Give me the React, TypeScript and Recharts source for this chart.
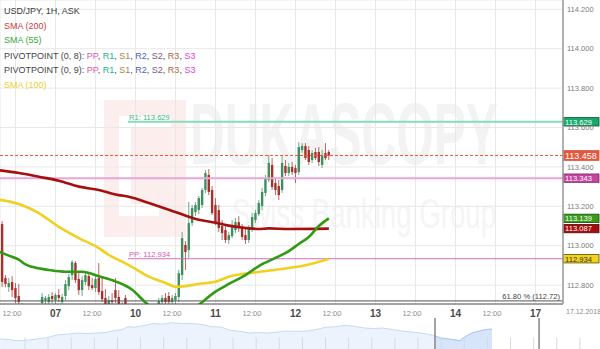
import React from 'react';
import {
  ComposedChart, Bar, Line, XAxis, YAxis, CartesianGrid, ReferenceLine,
  AreaChart, Area,
} from 'recharts';

const FONT = '"Liberation Sans", Arial, sans-serif';

// ---------- candles (1H), index 0 = 06 Dec 08:00 (hour -4 relative to 06 Dec 12:00)
const opens = [113.110,112.836,112.790,112.816,112.785,112.745,112.704,112.674,112.663,112.684,112.658,112.674,112.709,112.724,112.714,112.745,112.724,112.750,112.714,112.745,112.795,112.851,112.912,112.831,112.775,112.816,112.846,112.800,112.785,112.836,112.770,112.735,112.704,112.724,112.775,112.740,112.699,112.735,112.694,112.663,112.674,112.658,112.643,112.663,112.674,112.684,112.663,112.694,112.714,112.735,112.745,112.714,112.724,112.740,112.851,113.004,112.978,113.115,113.171,113.181,113.207,113.283,113.359,113.283,113.207,113.181,113.100,113.080,113.029,113.049,113.080,113.120,113.090,113.054,113.029,113.090,113.130,113.161,113.202,113.268,113.334,113.410,113.318,113.303,113.283,113.405,113.369,113.400,113.394,113.374,113.486,113.506,113.486,113.435,113.476,113.476,113.410,113.471,113.476];
const highs = [113.125,112.851,112.836,112.846,112.811,112.806,112.709,112.699,112.694,112.699,112.694,112.704,112.760,112.745,112.755,112.765,112.760,112.780,112.755,112.826,112.856,112.927,112.922,112.866,112.846,112.866,112.866,112.836,112.851,112.912,112.841,112.780,112.745,112.760,112.836,112.775,112.714,112.750,112.704,112.699,112.699,112.694,112.684,112.694,112.699,112.699,112.699,112.735,112.750,112.760,112.765,112.750,112.760,112.877,113.070,113.024,113.222,113.207,113.222,113.252,113.293,113.384,113.389,113.303,113.242,113.207,113.130,113.105,113.070,113.130,113.141,113.151,113.110,113.090,113.105,113.166,113.181,113.232,113.293,113.359,113.460,113.445,113.344,113.334,113.460,113.435,113.420,113.425,113.410,113.526,113.521,113.521,113.506,113.486,113.496,113.501,113.486,113.521,113.486];
const lows = [112.790,112.790,112.765,112.740,112.709,112.684,112.648,112.633,112.623,112.643,112.613,112.633,112.684,112.699,112.694,112.709,112.694,112.714,112.694,112.724,112.775,112.826,112.811,112.750,112.745,112.800,112.775,112.775,112.765,112.750,112.714,112.674,112.684,112.699,112.709,112.674,112.648,112.674,112.633,112.623,112.633,112.623,112.613,112.633,112.643,112.648,112.633,112.674,112.694,112.699,112.699,112.684,112.694,112.714,112.826,112.877,112.938,113.100,113.151,113.161,113.191,113.268,113.257,113.156,113.105,113.070,113.029,113.014,113.009,113.039,113.064,113.070,113.029,113.009,113.014,113.070,113.115,113.151,113.181,113.252,113.323,113.283,113.257,113.232,113.268,113.354,113.354,113.359,113.318,113.359,113.471,113.435,113.410,113.420,113.435,113.405,113.394,113.435,113.435];
const closes = [112.816,112.806,112.811,112.775,112.735,112.714,112.674,112.663,112.684,112.658,112.674,112.694,112.740,112.735,112.740,112.729,112.750,112.735,112.740,112.806,112.841,112.917,112.826,112.775,112.826,112.851,112.795,112.785,112.831,112.765,112.729,112.694,112.724,112.714,112.735,112.699,112.684,112.694,112.663,112.674,112.658,112.643,112.663,112.674,112.684,112.663,112.684,112.719,112.735,112.714,112.714,112.735,112.745,112.861,113.039,112.968,113.115,113.191,113.207,113.242,113.283,113.369,113.273,113.166,113.120,113.090,113.064,113.029,113.054,113.105,113.120,113.090,113.044,113.029,113.090,113.146,113.166,113.217,113.273,113.344,113.420,113.298,113.283,113.257,113.420,113.369,113.400,113.374,113.369,113.501,113.506,113.445,113.425,113.471,113.445,113.425,113.460,113.445,113.458];
const FIRST_HOUR = -4;

// ---------- moving averages (hour, value)
const sma200Hours = [-5, 1, 7, 13, 19, 25, 31, 34, 40, 46, 52, 55, 60, 64, 69, 73, 76, 82, 94];
const sma200Values = [113.383,113.369,113.350,113.330,113.300,113.283,113.257,113.249,113.217,113.183,113.147,113.132,113.117,113.102,113.090,113.085,113.088,113.085,113.087];
const sma100Hours = [-5, 1, 7, 13, 19, 25, 28, 31, 34, 40, 45, 48, 51, 55, 60, 64, 73, 82, 88, 94];
const sma100Values = [113.234,113.212,113.166,113.096,113.039,112.988,112.953,112.927,112.902,112.843,112.811,112.792,112.795,112.806,112.817,112.843,112.867,112.887,112.905,112.934];
const sma55Hours = [-5, -2, 1, 3, 5, 10, 15, 20, 25, 30, 35, 39, 43, 48, 52, 55, 60, 64, 69, 73, 78, 82, 85, 88, 91, 94];
const sma55Values = [112.970,112.950,112.929,112.905,112.893,112.877,112.868,112.868,112.845,112.819,112.777,112.712,112.660,112.630,112.660,112.700,112.767,112.806,112.851,112.897,112.938,112.973,113.009,113.044,113.100,113.139];

// ---------- axes
const xTicks = [0, 12, 24, 36, 48, 60, 72, 84, 96, 108, 120, 132, 144, 156];
const xTickLabels = ['12:00', '07', '12:00', '10', '12:00', '11', '12:00', '12', '12:00', '13', '12:00', '14', '12:00', '17'];
const yTicks = [112.8, 113.0, 113.2, 113.4, 113.6, 113.8, 114.0, 114.2];
const X_DOMAIN: [number, number] = [-4.65, 164.25];
const Y_DOMAIN: [number, number] = [112.7043, 114.2472];
const dateLabel = '17.12.2018';

// ---------- levels
const pivotStartHour = 33.75;
const r1Level = 113.629;
const ppLevel = 112.934;
const s1PrevLevel = 113.343;
const lastPrice = 113.458;
const fibLevel = 112.72;
const fibText = '61.80 % (112.72)';

const priceTags = [
  { value: 113.629, fill: '#19a86c', stroke: '#0b5234', color: '#ffffff', big: false },
  { value: 113.458, fill: '#e2583f', stroke: '#e2583f', color: '#ffffff', big: true },
  { value: 113.343, fill: '#c4459e', stroke: '#7a2a62', color: '#ffffff', big: false },
  { value: 113.139, fill: '#3a9a1c', stroke: '#1d4d0e', color: '#ffffff', big: false },
  { value: 113.087, fill: '#a30f0f', stroke: '#5a0808', color: '#ffffff', big: false },
  { value: 112.934, fill: '#f2d21a', stroke: '#5a5000', color: '#333333', big: false },
];

// ---------- navigator (hour, close)
const navHours = [-757,-740,-724,-708,-691,-675,-659,-640,-624,-608,-591,-575,-558,-545,-536,-525,-510,-492,-476,-460,-443,-425,-408,-392,-375,-359,-342,-326,-310,-294,-278,-261,-243,-226,-210,-193,-176,-160,-143,-127,-111,-95,-78,-62,-45,-29,-15,-5,5,20,38,47,60,72,84,94];
const navValues = [112.82,112.76,112.70,112.74,112.82,112.90,113.07,113.12,113.19,113.16,113.19,113.22,113.36,113.42,113.60,113.56,113.66,113.80,113.76,113.85,113.80,113.80,113.74,113.60,113.58,113.36,113.30,113.19,113.22,113.19,113.25,113.32,113.30,113.32,113.42,113.56,113.60,113.68,113.62,113.51,113.48,113.51,113.42,113.32,113.25,113.19,113.10,113.01,112.87,112.80,112.70,112.94,113.20,113.32,113.42,113.44];
const NAV_X_DOMAIN: [number, number] = [-757.2, 280.8];
const NAV_Y_DOMAIN: [number, number] = [112.17, 114.155];
const navWindow = [-4.65, 175.4];

const candles = opens.map((o, i) => ({ h: FIRST_HOUR + i, o, hi: highs[i], lo: lows[i], c: closes[i] }));
const toSeries = (hs: number[], vs: number[]) => hs.map((h, i) => ({ h, v: vs[i] }));
const sma200 = toSeries(sma200Hours, sma200Values);
const sma100 = toSeries(sma100Hours, sma100Values);
const sma55 = toSeries(sma55Hours, sma55Values);
const lastPriceLine = toSeries(X_DOMAIN, [lastPrice, lastPrice]);
const nav = toSeries(navHours, navValues);
const navSelected = nav.filter((d) => d.h >= -5);
const navGridHours = [-714,-674,-634,-594,-554,-514,-474,-434,-394,-354,-314,-274,-234,-194,-154,-114,-74,-34,6,46,86,126,166,206,246];

const GREEN = '#3f8f5e';
const RED = '#a5312c';

const Candle = (props: any) => {
  const { x, y, width, height, payload } = props;
  if (x == null || y == null || height == null || !payload) return null;
  const top = Math.min(y, y + height);
  const bot = Math.max(y, y + height);
  const span = payload.hi - payload.lo || 1;
  const toY = (v: number) => top + ((payload.hi - v) / span) * (bot - top);
  const cx = x + width / 2;
  const up = payload.c >= payload.o;
  const col = up ? GREEN : RED;
  const yo = toY(payload.o);
  const yc = toY(payload.c);
  const bt = Math.min(yo, yc);
  const bh = Math.max(1, Math.abs(yo - yc));
  return (
    <g>
      <line x1={cx} x2={cx} y1={top} y2={bot} stroke={col} strokeWidth={1} strokeOpacity={0.75} />
      <rect x={cx - 1.2} y={bt} width={2.4} height={bh} fill={col} />
    </g>
  );
};

const XTick = (props: any) => {
  const { x, y, payload } = props;
  const label = xTickLabels[xTicks.indexOf(payload.value)];
  const day = label !== '12:00';
  return (
    <text
      x={x + (day ? 0 : -3.5)}
      y={y + (day ? 12.5 : 11.5)}
      textAnchor="middle"
      fontSize={day ? 10 : 7.5}
      fontWeight={day ? 'bold' : 'normal'}
      fill={day ? '#4a4a4a' : '#8a8a8a'}
      fontFamily={FONT}
    >
      {label}
    </text>
  );
};

const YTick = (props: any) => {
  const { x, y, payload } = props;
  return (
    <text x={x} y={y} dy={2.7} textAnchor="start" fontSize={7.5} fill="#7a7a7a" fontFamily={FONT}>
      {Number(payload.value).toFixed(3)}
    </text>
  );
};

const TagLabel = (props: any) => {
  const { viewBox, tag } = props;
  if (!viewBox) return null;
  const bx = viewBox.x + viewBox.width;
  const hh = tag.big ? 10 : 8.4;
  return (
    <g>
      <rect x={bx} y={viewBox.y - hh / 2} width={36} height={hh} fill={tag.fill} stroke={tag.stroke} strokeWidth={0.8} />
      <text x={bx + 2} y={viewBox.y} dy={tag.big ? 3.3 : 2.8} fontSize={tag.big ? 9 : 7.6} fill={tag.color} fontFamily={FONT}>
        {tag.value.toFixed(3)}
      </text>
    </g>
  );
};

const LevelText = (props: any) => {
  const { viewBox, text, color, align } = props;
  if (!viewBox) return null;
  const right = align === 'right';
  return (
    <text
      x={right ? viewBox.x + viewBox.width - 3 : viewBox.x + 1}
      y={viewBox.y - 2}
      textAnchor={right ? 'end' : 'start'}
      fontSize={7.6}
      fill={color}
      fontFamily={FONT}
    >
      {text}
    </text>
  );
};

const legendRows: { top: number; parts: { t: string; c: string }[] }[] = [
  { top: 6, parts: [{ t: 'USD/JPY, 1H, ASK', c: '#3a3a3a' }] },
  { top: 20.5, parts: [{ t: 'SMA (200)', c: '#cc3b3b' }] },
  { top: 35, parts: [{ t: 'SMA (55)', c: '#3aa83a' }] },
  { top: 50.5, parts: [
    { t: 'PIVOTPOINT (0, 8): ', c: '#444' }, { t: 'PP', c: '#e055b5' }, { t: ', ', c: '#444' },
    { t: 'R1', c: '#22b582' }, { t: ', ', c: '#444' }, { t: 'S1', c: '#a8844a' }, { t: ', ', c: '#444' },
    { t: 'R2', c: '#4a64c0' }, { t: ', ', c: '#444' }, { t: 'S2', c: '#7a5a80' }, { t: ', ', c: '#444' },
    { t: 'R3', c: '#a86a3a' }, { t: ', ', c: '#444' }, { t: 'S3', c: '#e040e0' },
  ] },
  { top: 65, parts: [
    { t: 'PIVOTPOINT (0, 9): ', c: '#444' }, { t: 'PP', c: '#e055b5' }, { t: ', ', c: '#444' },
    { t: 'R1', c: '#22b582' }, { t: ', ', c: '#444' }, { t: 'S1', c: '#a8844a' }, { t: ', ', c: '#444' },
    { t: 'R2', c: '#4a64c0' }, { t: ', ', c: '#444' }, { t: 'S2', c: '#7a5a80' }, { t: ', ', c: '#444' },
    { t: 'R3', c: '#a86a3a' }, { t: ', ', c: '#444' }, { t: 'S3', c: '#e040e0' },
  ] },
  { top: 80, parts: [{ t: 'SMA (100)', c: '#f0d030' }] },
];

export default function App() {
  return (
    <div style={{ position: 'absolute', left: 0, top: 0, width: 600, height: 349, overflow: 'hidden', background: '#fff', fontFamily: FONT }}>
      {/* watermark */}
      <svg width={600} height={318} style={{ position: 'absolute', left: 0, top: 0 }}>
        <rect x={104} y={100} width={82} height={137} fill="#fdeeee" />
        <rect x={119} y={116} width={52} height={12} fill="#ffffff" />
        <rect x={119} y={116} width={12} height={100} fill="#ffffff" />
        <rect x={119} y={204} width={40} height={12} fill="#ffffff" />
        <text x={190} y={164} fontSize={88} fontWeight="bold" fill="#f3f3f3" textLength={308} lengthAdjust="spacingAndGlyphs" fontFamily={FONT}>DUKASCOPY</text>
        <text x={232} y={228} fontSize={42} fill="#f5f5f5" textLength={264} lengthAdjust="spacingAndGlyphs" fontFamily={FONT}>Swiss Banking Group</text>
      </svg>

      <div style={{ position: 'absolute', left: 0, top: 0 }}>
        <ComposedChart width={600} height={318} data={candles} margin={{ top: 0, right: 0, left: 0, bottom: 0 }}>
          <CartesianGrid stroke="#e8e8e8" strokeWidth={1} />
          <XAxis
            dataKey="h"
            type="number"
            domain={X_DOMAIN}
            allowDataOverflow
            ticks={xTicks}
            interval={0}
            height={14}
            tickSize={0}
            tickMargin={0}
            tickLine={false}
            axisLine={{ stroke: '#555', strokeWidth: 1.2 }}
            tick={<XTick />}
          />
          <YAxis
            orientation="right"
            type="number"
            domain={Y_DOMAIN}
            allowDataOverflow
            ticks={yTicks}
            interval={0}
            width={37}
            tickSize={0}
            tickMargin={4}
            tickLine={false}
            axisLine={{ stroke: '#a0a0a0', strokeWidth: 1.6 }}
            tick={<YTick />}
          />
          <ReferenceLine y={s1PrevLevel} stroke="#e8a6d6" strokeWidth={2} />
          <ReferenceLine
            segment={[{ x: pivotStartHour, y: r1Level }, { x: X_DOMAIN[1], y: r1Level }]}
            stroke="#86dcb8"
            strokeWidth={2}
            label={<LevelText text={`R1: ${r1Level.toFixed(3)}`} color="#3cb88a" />}
          />
          <ReferenceLine
            segment={[{ x: pivotStartHour, y: ppLevel }, { x: X_DOMAIN[1], y: ppLevel }]}
            stroke="#d46fbc"
            strokeWidth={1}
            label={<LevelText text={`PP: ${ppLevel.toFixed(3)}`} color="#d060b0" />}
          />
          <ReferenceLine y={fibLevel} stroke="#555" strokeWidth={1} label={<LevelText text={fibText} color="#444" align="right" />} />
          <Line data={lastPriceLine} dataKey="v" type="linear" stroke="#f2553a" strokeWidth={1} strokeDasharray="3 2" dot={false} activeDot={false} isAnimationActive={false} />
          <Line data={sma200} dataKey="v" type="monotone" stroke="#a50f0f" strokeWidth={2.6} dot={false} activeDot={false} isAnimationActive={false} />
          <Line data={sma100} dataKey="v" type="monotone" stroke="#f0d020" strokeWidth={2.6} dot={false} activeDot={false} isAnimationActive={false} />
          <Line data={sma55} dataKey="v" type="monotone" stroke="#2f9a12" strokeWidth={2.6} dot={false} activeDot={false} isAnimationActive={false} />
          <Bar dataKey={(d: any) => [d.lo, d.hi]} barSize={2} shape={<Candle />} isAnimationActive={false} />
          {priceTags.map((t) => (
            <ReferenceLine key={t.value} y={t.value} stroke="none" strokeOpacity={0} label={<TagLabel tag={t} />} />
          ))}
        </ComposedChart>
      </div>

      <div style={{ position: 'absolute', left: 566, top: 307, fontSize: 7, lineHeight: '9px', color: '#8a8a8a', whiteSpace: 'nowrap' }}>{dateLabel}</div>

      {legendRows.map((r, i) => (
        <div key={i} style={{ position: 'absolute', left: 4, top: r.top, fontSize: 9, lineHeight: '11px', whiteSpace: 'nowrap' }}>
          {r.parts.map((p, j) => (
            <span key={j} style={{ color: p.c }}>{p.t}</span>
          ))}
        </div>
      ))}

      <div style={{ position: 'absolute', left: 0, top: 318 }}>
        <AreaChart width={600} height={31} data={nav} margin={{ top: 0, right: 0, left: 0, bottom: 0 }}>
          <XAxis dataKey="h" type="number" domain={NAV_X_DOMAIN} allowDataOverflow hide />
          <YAxis type="number" domain={NAV_Y_DOMAIN} allowDataOverflow hide />
          <Area dataKey="v" type="linear" stroke="#c6daf5" strokeWidth={1} fill="#edf3fd" fillOpacity={1} isAnimationActive={false} />
          <Area data={navSelected} dataKey="v" type="linear" stroke="#aac6ef" strokeWidth={1} fill="#d7e5fa" fillOpacity={1} isAnimationActive={false} />
          {navGridHours.map((h) => (
            <ReferenceLine key={h} segment={[{ x: h, y: NAV_Y_DOMAIN[0] }, { x: h, y: 112.9 }]} stroke="#d4dbe6" strokeWidth={1} />
          ))}
          <ReferenceLine x={navWindow[0]} stroke="#8c8c8c" strokeWidth={1.6} />
          <ReferenceLine x={navWindow[1]} stroke="#8c8c8c" strokeWidth={1.6} />
        </AreaChart>
      </div>
    </div>
  );
}
